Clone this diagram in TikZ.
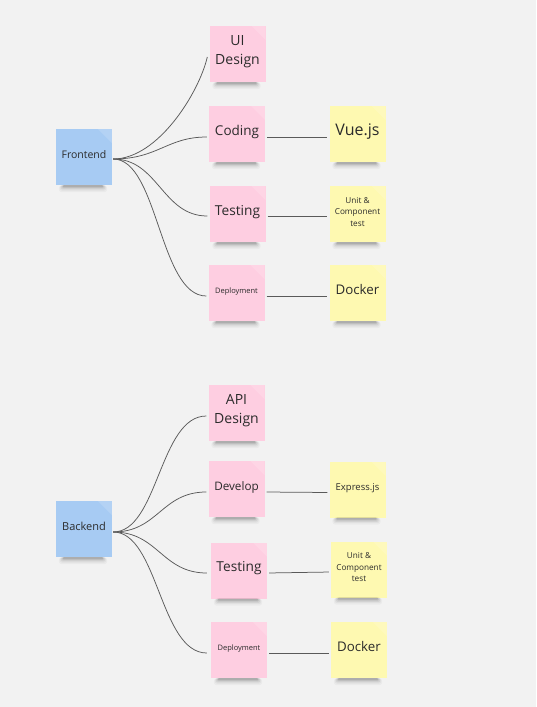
\documentclass[tikz,border=0pt]{standalone}
\usepackage{fontspec}
\setmainfont{Open Sans}
\usetikzlibrary{calc}
\definecolor{bgc}{HTML}{F2F2F2}
\definecolor{blueN}{HTML}{A7CBF3}
\definecolor{pinkN}{HTML}{FECEE1}
\definecolor{yellowN}{HTML}{FEF9B1}
\definecolor{txt}{HTML}{2B2B2B}
\definecolor{lineC}{HTML}{5A5A5A}
\newcommand{\nfs}[1]{\fontsize{#1pt}{\the\dimexpr #1pt*14/10\relax}\selectfont}
\tikzset{
  note/.style={minimum width=56pt, minimum height=56pt, inner sep=1pt, align=center,
    text=txt, font=\nfs{#1},
    execute at end node={\rule[-0.55em]{0pt}{0pt}},
    path picture={\fill[white,opacity=0.15] ($(path picture bounding box.north east)+(-14,0)$) -- (path picture bounding box.north east) -- ($(path picture bounding box.north east)+(0,14)$) -- cycle;}},
  bnote/.style={note=#1, fill=blueN},
  pnote/.style={note=#1, fill=pinkN},
  ynote/.style={note=#1, fill=yellowN},
  conn/.style={draw=lineC, line width=0.75pt},
  hconn/.style={conn, shorten >=2pt, shorten <=2pt},
}
\newcommand{\noteshadow}[1]{%
  \fill[black,opacity=0.03,rounded corners=3pt] ($(#1.south west)+(3,0)$) rectangle ($(#1.south east)+(-5,7)$);
  \fill[black,opacity=0.04,rounded corners=2.5pt] ($(#1.south west)+(4,0)$) rectangle ($(#1.south east)+(-6,5.5)$);
  \fill[black,opacity=0.06,rounded corners=2pt] ($(#1.south west)+(5,0)$) rectangle ($(#1.south east)+(-7,4.2)$);
  \fill[black,opacity=0.08,rounded corners=1.5pt] ($(#1.south west)+(6,0)$) rectangle ($(#1.south east)+(-8,3)$);
  \fill[black,opacity=0.10,rounded corners=1pt] ($(#1.south west)+(7,0)$) rectangle ($(#1.south east)+(-9,2)$);
}
\begin{document}
\begin{tikzpicture}[x=1pt,y=-1pt]
\fill[bgc] (0,0) rectangle (536,707);
\useasboundingbox (0,0) rectangle (536,707);
% Frontend
\node[bnote=10.5] (F) at (84,157) {Frontend};
\node[pnote=14] (UI) at (237.5,54) {UI\\Design};
\node[pnote=13.5] (CO) at (237,134) {Coding};
\node[pnote=13.7] (TE) at (237.5,214) {Testing};
\node[pnote=7.5] (DE) at (236.5,293) {Deployment};
\node[ynote=16] (VU) at (357.5,134) {Vue.js};
\node[ynote=8.2] (UT) at (357.5,214) {Unit \&\\Component\\test};
\node[ynote=13.3] (DO) at (357.5,293) {Docker};
% Backend
\node[bnote=11] (B) at (84,529) {Backend};
\node[pnote=14] (AP) at (236.5,413) {API\\Design};
\node[pnote=11.7] (DV) at (236.5,489) {Develop};
\node[pnote=13.7] (TB) at (239,570.5) {Testing};
\node[pnote=7.5] (DB) at (239,650) {Deployment};
\node[ynote=9.5] (EX) at (357.5,489.5) {Express.js};
\node[ynote=8.2] (UB) at (359,569.5) {Unit \&\\Component\\test};
\node[ynote=13.3] (DK) at (359,650) {Docker};
% shadows
\foreach \n in {F,UI,CO,TE,DE,VU,UT,DO,B,AP,DV,TB,DB,EX,UB,DK}{\noteshadow{\n}}
% connectors frontend
\coordinate (Fs) at ($(F.east)+(1,2)$);
\draw[conn] (Fs) .. controls +(45,0) and +(-8,35) .. ($(UI.west)+(-2,3)$);
\draw[conn] (Fs) .. controls +(45,0) and +(-40,0) .. ($(CO.west)+(-2,3)$);
\draw[conn] (Fs) .. controls +(45,0) and +(-45,0) .. ($(TE.west)+(-2,2)$);
\draw[conn] (Fs) .. controls +(45,0) and +(-47,0) .. ($(DE.west)+(-2,3)$);
\draw[hconn] ($(CO.east)+(0,3)$) -- ($(VU.west)+(0,3)$);
\draw[hconn] ($(TE.east)+(0,2)$) -- ($(UT.west)+(0,2)$);
\draw[hconn] ($(DE.east)+(0,3)$) -- ($(DO.west)+(0,3)$);
% connectors backend
\coordinate (Bs) at ($(B.east)+(1,3)$);
\draw[conn] (Bs) .. controls +(45,0) and +(-47,0) .. ($(AP.west)+(-2,3)$);
\draw[conn] (Bs) .. controls +(45,0) and +(-45,0) .. ($(DV.west)+(-2,3)$);
\draw[conn] (Bs) .. controls +(45,0) and +(-45,0) .. ($(TB.west)+(-4,2.5)$);
\draw[conn] (Bs) .. controls +(45,0) and +(-47,0) .. ($(DB.west)+(-4,3)$);
\draw[hconn] ($(DV.east)+(0,3)$) -- ($(EX.west)+(0,3)$);
\draw[hconn] ($(TB.east)+(0,2.5)$) -- ($(UB.west)+(0,2.5)$);
\draw[hconn] ($(DB.east)+(0,3)$) -- ($(DK.west)+(0,3)$);
\end{tikzpicture}
\end{document}
